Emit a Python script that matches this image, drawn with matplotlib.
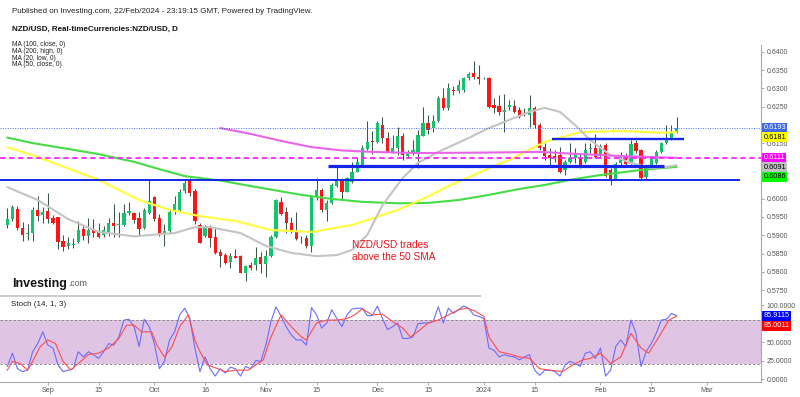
import matplotlib
matplotlib.use('Agg')
import matplotlib.pyplot as plt
from matplotlib.ticker import FuncFormatter
from matplotlib.lines import Line2D
import numpy as np

plt.rcParams['font.family'] = ['Liberation Sans', 'DejaVu Sans']

# ---------------- data (daily NZD/USD bars, Aug 22 2023 .. Feb 22 2024) ----------------
opens = [0.5928, 0.5943, 0.5971, 0.5920, 0.5903, 0.5907, 0.5969, 0.5955, 0.5966, 0.5947,
         0.5949, 0.5883, 0.5872, 0.5874, 0.5882, 0.5916, 0.5898, 0.5916, 0.5912, 0.5901,
         0.5903, 0.5934, 0.5928, 0.5928, 0.5961, 0.5960, 0.5947, 0.5921, 0.5960, 0.6003,
         0.5947, 0.5906, 0.5912, 0.5963, 0.5970, 0.6020, 0.6047, 0.6021, 0.5928, 0.5899,
         0.5922, 0.5896, 0.5854, 0.5846, 0.5828, 0.5843, 0.5843, 0.5798, 0.5819, 0.5819,
         0.5842, 0.5821, 0.5843, 0.5896, 0.5991, 0.5964, 0.5933, 0.5912, 0.5891, 0.5893,
         0.5871, 0.6005, 0.6023, 0.5969, 0.5987, 0.6035, 0.6051, 0.6019, 0.6046, 0.6073,
         0.6091, 0.6135, 0.6157, 0.6155, 0.6199, 0.6164, 0.6128, 0.6139, 0.6170, 0.6117,
         0.6121, 0.6121, 0.6171, 0.6206, 0.6193, 0.6211, 0.6273, 0.6246, 0.6297, 0.6293,
         0.6296, 0.6328, 0.6341, 0.6332, 0.6328, 0.6328, 0.6255, 0.6253, 0.6237, 0.6250,
         0.6252, 0.6241, 0.6230, 0.6228, 0.6247, 0.6200, 0.6141, 0.6119, 0.6116, 0.6119,
         0.6078, 0.6100, 0.6110, 0.6111, 0.6100, 0.6134, 0.6137, 0.6117, 0.6146, 0.6078,
         0.6052, 0.6097, 0.6114, 0.6096, 0.6150, 0.6132, 0.6059, 0.6087, 0.6096, 0.6126,
         0.6150, 0.6162, 0.6179]
highs = [0.5974, 0.5982, 0.5980, 0.5936, 0.5931, 0.5977, 0.6007, 0.5978, 0.6016, 0.5955,
         0.5950, 0.5901, 0.5895, 0.5892, 0.5940, 0.5928, 0.5946, 0.5944, 0.5934, 0.5925,
         0.5947, 0.5985, 0.5963, 0.5986, 0.5991, 0.5964, 0.5963, 0.5974, 0.6051, 0.6007,
         0.5959, 0.5931, 0.5969, 0.6007, 0.6025, 0.6051, 0.6057, 0.6025, 0.5934, 0.5928,
         0.5928, 0.5919, 0.5862, 0.5852, 0.5851, 0.5862, 0.5846, 0.5819, 0.5828, 0.5869,
         0.5855, 0.5860, 0.5901, 0.5999, 0.6005, 0.5978, 0.5951, 0.5963, 0.5898, 0.5901,
         0.6008, 0.6055, 0.6028, 0.5996, 0.6041, 0.6089, 0.6055, 0.6060, 0.6100, 0.6110,
         0.6146, 0.6211, 0.6184, 0.6211, 0.6223, 0.6182, 0.6173, 0.6196, 0.6178, 0.6132,
         0.6159, 0.6187, 0.6250, 0.6228, 0.6228, 0.6279, 0.6301, 0.6315, 0.6307, 0.6323,
         0.6331, 0.6345, 0.6375, 0.6364, 0.6330, 0.6330, 0.6274, 0.6282, 0.6285, 0.6268,
         0.6268, 0.6249, 0.6247, 0.6282, 0.6252, 0.6207, 0.6151, 0.6138, 0.6132, 0.6141,
         0.6105, 0.6150, 0.6138, 0.6121, 0.6150, 0.6150, 0.6176, 0.6149, 0.6150, 0.6083,
         0.6100, 0.6128, 0.6123, 0.6159, 0.6159, 0.6134, 0.6091, 0.6114, 0.6132, 0.6155,
         0.6200, 0.6200, 0.6221]
lows = [0.5921, 0.5939, 0.5914, 0.5884, 0.5887, 0.5884, 0.5939, 0.5934, 0.5934, 0.5931,
        0.5862, 0.5858, 0.5862, 0.5865, 0.5880, 0.5887, 0.5879, 0.5896, 0.5892, 0.5895,
        0.5898, 0.5894, 0.5895, 0.5925, 0.5955, 0.5933, 0.5901, 0.5918, 0.5958, 0.5940,
        0.5898, 0.5871, 0.5907, 0.5958, 0.5967, 0.6014, 0.6007, 0.5931, 0.5878, 0.5895,
        0.5869, 0.5849, 0.5814, 0.5823, 0.5810, 0.5837, 0.5796, 0.5776, 0.5805, 0.5805,
        0.5798, 0.5787, 0.5840, 0.5892, 0.5955, 0.5905, 0.5905, 0.5887, 0.5880, 0.5866,
        0.5855, 0.5996, 0.5964, 0.5939, 0.5984, 0.6031, 0.5996, 0.6018, 0.6041, 0.6071,
        0.6087, 0.6132, 0.6121, 0.6152, 0.6150, 0.6126, 0.6124, 0.6119, 0.6105, 0.6113,
        0.6119, 0.6084, 0.6170, 0.6176, 0.6181, 0.6208, 0.6241, 0.6241, 0.6282, 0.6288,
        0.6290, 0.6323, 0.6326, 0.6312, 0.6325, 0.6247, 0.6233, 0.6227, 0.6182, 0.6241,
        0.6233, 0.6219, 0.6225, 0.6196, 0.6192, 0.6132, 0.6105, 0.6091, 0.6100, 0.6069,
        0.6064, 0.6096, 0.6097, 0.6083, 0.6097, 0.6123, 0.6111, 0.6113, 0.6059, 0.6037,
        0.6051, 0.6091, 0.6087, 0.6094, 0.6125, 0.6051, 0.6051, 0.6082, 0.6094, 0.6123,
        0.6149, 0.6159, 0.6178]
closes = [0.5943, 0.5977, 0.5919, 0.5901, 0.5907, 0.5969, 0.5952, 0.5964, 0.5943, 0.5934,
          0.5882, 0.5869, 0.5878, 0.5876, 0.5914, 0.5898, 0.5914, 0.5906, 0.5896, 0.5914,
          0.5933, 0.5925, 0.5931, 0.5960, 0.5965, 0.5942, 0.5916, 0.5970, 0.5994, 0.5943,
          0.5903, 0.5912, 0.5964, 0.5985, 0.6019, 0.6042, 0.6016, 0.5939, 0.5880, 0.5924,
          0.5893, 0.5852, 0.5843, 0.5825, 0.5843, 0.5839, 0.5798, 0.5816, 0.5812, 0.5838,
          0.5822, 0.5843, 0.5896, 0.5997, 0.5957, 0.5933, 0.5910, 0.5891, 0.5889, 0.5871,
          0.6005, 0.6023, 0.5969, 0.5987, 0.6037, 0.6053, 0.6019, 0.6055, 0.6073, 0.6099,
          0.6137, 0.6153, 0.6153, 0.6207, 0.6164, 0.6128, 0.6139, 0.6170, 0.6119, 0.6121,
          0.6132, 0.6173, 0.6205, 0.6187, 0.6211, 0.6273, 0.6246, 0.6300, 0.6293, 0.6309,
          0.6329, 0.6338, 0.6332, 0.6325, 0.6327, 0.6250, 0.6247, 0.6236, 0.6241, 0.6255,
          0.6237, 0.6223, 0.6232, 0.6246, 0.6200, 0.6137, 0.6116, 0.6110, 0.6110, 0.6073,
          0.6100, 0.6110, 0.6124, 0.6091, 0.6132, 0.6137, 0.6112, 0.6143, 0.6061, 0.6051,
          0.6094, 0.6114, 0.6094, 0.6148, 0.6130, 0.6055, 0.6087, 0.6109, 0.6126, 0.6150,
          0.6163, 0.6182, 0.6193]

# moving averages, read as vertices (bar index, value)
ma100_x = [0, 5, 12, 18, 25, 30, 35, 42, 48, 53, 58, 64, 70, 77, 83, 89, 95, 101, 106, 111, 117, 121, 125, 129, 132]
ma100 = [0.6166, 0.6151, 0.6135, 0.6121, 0.6100, 0.6080, 0.6061, 0.6049, 0.6034, 0.6022, 0.6010, 0.5999, 0.5991,
         0.5987, 0.5988, 0.5996, 0.6010, 0.6026, 0.6037, 0.6051, 0.6064, 0.6071, 0.6078, 0.6083, 0.6086]
ma200_x = [42, 48, 54, 60, 66, 72, 81, 93, 105, 113, 121, 127, 132]
ma200 = [0.6192, 0.6176, 0.6157, 0.6140, 0.6131, 0.6127, 0.6124, 0.6125, 0.6127, 0.6121, 0.6116, 0.6113, 0.6111]
ma20_x = [0, 6, 12, 18, 25, 33, 37, 40, 46, 51, 56, 61, 65, 68, 71, 74, 78, 81, 85, 91, 95, 99, 103, 106, 109,
          112, 115, 119, 123, 127, 130, 132]
ma20 = [0.6031, 0.5996, 0.5944, 0.5909, 0.5897, 0.5906, 0.5922, 0.5922, 0.5906, 0.5871, 0.5852, 0.5843, 0.5846,
        0.5860, 0.5901, 0.5982, 0.6056, 0.6097, 0.6127, 0.6165, 0.6192, 0.6214, 0.6236, 0.6247, 0.6236, 0.6200,
        0.6159, 0.6118, 0.6097, 0.6083, 0.6086, 0.6091]
ma50_x = [0, 6, 18, 26, 32, 38, 45, 52, 60, 68, 77, 82, 87, 92, 96, 99, 102, 106, 113, 121, 129, 132]
ma50 = [0.6140, 0.6113, 0.6051, 0.5996, 0.5969, 0.5952, 0.5939, 0.5914, 0.5909, 0.5928, 0.5969, 0.5999, 0.6034,
        0.6064, 0.6089, 0.6105, 0.6127, 0.6154, 0.6181, 0.6184, 0.6179, 0.6181]

# drawn support / resistance levels
sr_levels = [0.6050, 0.6089, 0.6162]
sr_start = [-1.44, 63.3, 107.4]
sr_end = [144.5, 129.5, 133.5]

# stochastic (14, 1, 3)
stoch_k = [17, 35, 14, 10, 12, 37, 48, 64, 46, 42, 19, 10, 12, 14, 37, 30, 37, 33, 28, 37,
           48, 46, 57, 80, 81, 71, 44, 81, 71, 48, 14, 24, 53, 64, 87, 96, 82, 42, 10, 30,
           14, 4, 14, 8, 16, 14, 4, 17, 14, 25, 24, 46, 78, 98, 85, 71, 60, 53, 53, 46,
           97, 87, 69, 76, 94, 82, 71, 87, 95, 96, 96, 86, 86, 99, 82, 67, 71, 76, 55, 55,
           57, 75, 76, 76, 78, 98, 76, 96, 89, 94, 99, 96, 87, 85, 82, 42, 39, 30, 33, 31,
           30, 26, 30, 33, 12, 5, 12, 12, 10, 4, 19, 24, 21, 17, 35, 37, 28, 42, 4, 12,
           44, 53, 44, 80, 62, 17, 37, 48, 62, 80, 81, 89, 85.9115]
stoch_d_x = [0, 1, 2.5, 4, 5, 6.5, 8, 9.5, 11, 12.5, 14, 16, 18, 20, 22, 23.5, 25, 26.5, 28.5, 29.5,
             31, 32.5, 34, 35.7, 37, 38, 39.5, 41.5, 43, 45, 47.5, 49, 50.5, 52, 54, 56, 58, 59, 61, 63,
             65, 67, 68.5, 70, 72, 74, 76, 78, 79.5, 81.5, 83, 85, 87, 89, 90.5, 92, 94, 95, 97, 99,
             101, 103, 105, 107, 109.5, 111.5, 113.5, 115, 117, 119, 121, 123, 125, 126.5, 128.5, 130.5, 132]
stoch_d = [12, 24, 21, 12, 24, 44, 53, 48, 24, 12, 21, 33, 35, 42, 55, 73, 73, 64, 64, 46,
           30, 44, 71, 87, 53, 37, 19, 14, 10, 12, 12, 19, 26, 57, 87, 71, 57, 53, 76, 80,
           80, 82, 87, 95, 87, 88, 78, 69, 57, 67, 76, 80, 87, 94, 96, 93, 85, 57, 37, 34,
           30, 28, 14, 12, 10, 19, 26, 28, 35, 21, 30, 62, 42, 35, 57, 80, 85.0011]

date_ticks = [8, 18, 29, 39, 51, 61, 73, 83, 94, 104, 117, 127, 138]
date_labels = ['Sep', '15', 'Oct', '16', 'Nov', '15', 'Dec', '15', '2024', '15', 'Feb', '15', 'Mar']
price_ticks = [0.5750, 0.5800, 0.5850, 0.5900, 0.5950, 0.6000, 0.6050, 0.6100, 0.6150, 0.6200,
               0.6250, 0.6300, 0.6350, 0.6400]
price_hidden = [0.6050, 0.6100, 0.6200]      # covered by the value boxes in the original
stoch_ticks = [0, 25, 50, 75, 100]
stoch_hidden = [75]

# ---------------- figure ----------------
W, H = 800, 397
fig = plt.figure(figsize=(W / 100, H / 100), dpi=100)
fig.patch.set_facecolor('white')


def rect(l, t, r, b):
    return [l / W, 1 - b / H, (r - l) / W, (b - t) / H]


AX_R = 760.7
ax = fig.add_axes(rect(0, 45, AX_R, 292))
ax2 = fig.add_axes(rect(0, 298, AX_R, 382))
XL = (-1.44, 148.6)
for a in (ax, ax2):
    a.set_xlim(*XL)
    a.set_facecolor('none')
    for s in a.spines.values():
        s.set_visible(False)
ax.set_ylim(0.57454, 0.641825)
ax2.set_ylim(-4.07, 109.9)

UP, DOWN, WICK = '#12c46a', '#ff1515', '#3a5845'
o = np.array(opens); h = np.array(highs); l = np.array(lows); c = np.array(closes)
idx = np.arange(len(o))
up = c >= o
bb = np.minimum(o, c)
bh = np.maximum(np.abs(c - o), 0.00012)
ax.vlines(idx, l, h, color=WICK, lw=0.75, zorder=2)
ax.bar(idx[up], bh[up], bottom=bb[up], width=0.64, color=UP, lw=0, zorder=2.5)
ax.bar(idx[~up], bh[~up], bottom=bb[~up], width=0.64, color=DOWN, lw=0, zorder=2.5)

ma_style = dict(lw=1.5, zorder=3, solid_capstyle='round', solid_joinstyle='round')
ax.plot(ma100_x, ma100, color='#45dd45', **ma_style)
ax.plot(ma50_x, ma50, color='#ffff3c', **ma_style)
ax.plot(ma20_x, ma20, color='#c4c4c4', **ma_style)
ax.plot(ma200_x, ma200, color='#e865e8', **ma_style)

ax.axhline(closes[-1], color='#4a6ee8', lw=0.7, ls=(0, (1, 1.5)), zorder=4)
ax.axhline(ma200[-1], color='#ff22ff', lw=1.3, ls=(0, (3, 2)), zorder=4)
for lev, s0, s1, lw in zip(sr_levels, sr_start, sr_end, [1.4, 2.3, 1.7]):
    ax.hlines(lev, s0, s1, color='#1626e8', lw=lw, zorder=4)


def fmt_skip(hidden, fmt):
    return FuncFormatter(lambda v, p: '' if any(abs(v - x) < 1e-9 for x in hidden) else fmt % v)


ax.yaxis.tick_right()
ax.set_yticks(price_ticks)
ax.yaxis.set_major_formatter(fmt_skip(price_hidden, '%.4f'))
ax.set_xticks([])
ax.tick_params(axis='y', length=2.5, width=0.6, color='#999999', labelsize=5,
               labelcolor='#555555', pad=1.5)

# stochastic pane
ax2.axhspan(20, 80, color='#dfc4e4', lw=0, zorder=1)
for lev in (20, 80):
    ax2.axhline(lev, color='#8a8a8a', lw=0.7, ls=(0, (2.5, 2)), zorder=2)
ax2.plot(idx, stoch_k, color='#6b6bff', lw=0.8, zorder=3)
ax2.plot(stoch_d_x, stoch_d, color='#ff4d4d', lw=0.8, zorder=3)
ax2.spines['bottom'].set_visible(True)
ax2.spines['bottom'].set_color('#aaaaaa')
ax2.spines['bottom'].set_linewidth(0.8)
ax2.yaxis.tick_right()
ax2.set_yticks(stoch_ticks)
ax2.yaxis.set_major_formatter(fmt_skip(stoch_hidden, '%.4f'))
ax2.tick_params(axis='y', length=2.5, width=0.6, color='#999999', labelsize=5,
                labelcolor='#555555', pad=1.5)
ax2.set_xticks(date_ticks)
ax2.set_xticklabels(date_labels)
ax2.tick_params(axis='x', length=2, width=0.6, color='#999999', labelsize=5.2,
                labelcolor='#555555', pad=1.5)

# axis line and pane separator
fig.add_artist(Line2D([AX_R / W, AX_R / W], [1 - 45 / H, 1 - 382 / H], color='#aaaaaa', lw=0.8,
                      transform=fig.transFigure))
fig.add_artist(Line2D([0, 480 / W], [1 - 296 / H, 1 - 296 / H], color='#cccccc', lw=1.4,
                      transform=fig.transFigure))


# last-value boxes on the right axis, stacked so they do not overlap
def value_boxes(a, items, fmt, gap=9.5):
    prev = None
    for val, bg, fg in sorted(items, key=lambda t: -t[0]):
        ypx = a.transData.transform((0, val))[1]
        if prev is not None and ypx > prev - gap:
            ypx = prev - gap
        prev = ypx
        yf = a.transAxes.inverted().transform((0, ypx))[1]
        a.text(1 + 2.6 / AX_R, yf, fmt % val, transform=a.transAxes, ha='left', va='center',
               fontsize=5.3, color=fg, zorder=10, clip_on=False,
               bbox=dict(boxstyle='square,pad=0.2', fc=bg, ec='none'))


value_boxes(ax, [(closes[-1], '#4169e1', 'white'), (ma50[-1], '#ffff00', 'black'),
                 (ma200[-1], '#ff00ff', 'white'), (ma20[-1], '#c0c0c0', 'black'),
                 (ma100[-1], '#00ff00', 'black')], '%.4f')
value_boxes(ax2, [(stoch_k[-1], '#0000ff', 'white'), (stoch_d[-1], '#ff0000', 'white')], '%.4f', gap=10)


# texts
def ftext(x, y, s, **kw):
    fig.text(x / W, 1 - y / H, s, **kw)


ftext(11.5, 11.7, 'Published on Investing.com, 22/Feb/2024 - 23:19:15 GMT, Powered by TradingView.',
      fontsize=5.8, va='center', color='#222222')
ftext(11.5, 29.5, 'NZD/USD, Real-timeCurrencies:NZD/USD, D', fontsize=5.8, fontweight='bold',
      va='center', color='#111111')
for i, s in enumerate(['MA (100, close, 0)', 'MA (200, high, 0)', 'MA (20, low, 0)', 'MA (50, close, 0)']):
    ftext(12.5, 44.5 + 6.8 * i, s, fontsize=4.8, va='center', color='#222222')
ftext(11, 304, 'Stoch (14, 1, 3)', fontsize=5.8, va='center', color='#222222')
ftext(12.5, 286.5, 'Investing', fontsize=9, fontweight='bold', va='baseline', color='#111111')
ftext(68.3, 286.5, '.com', fontsize=6.3, va='baseline', color='#555555')
ftext(352.5, 245, 'NZD/USD trades', fontsize=7.3, va='center', color='#e8141c')
ftext(352.5, 256.7, 'above the 50 SMA', fontsize=7.3, va='center', color='#e8141c')

fig.savefig('out.png', dpi=100)
